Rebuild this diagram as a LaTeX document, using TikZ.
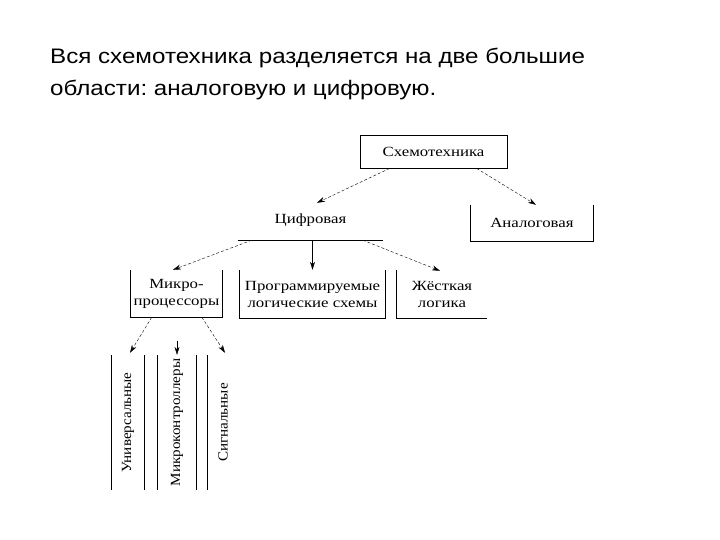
\documentclass[tikz,border=0pt]{standalone}
\usepackage{fontspec}
\setmainfont{Liberation Serif}
\newfontfamily\titlefont[FakeStretch=1.15]{Liberation Sans}
\newfontfamily\boxfont[FakeStretch=1.2]{Liberation Serif}
\newfontfamily\vertfont[FakeStretch=1.08]{Liberation Serif}
\usetikzlibrary{arrows.meta,calc}
\frenchspacing
\begin{document}
\begin{tikzpicture}[x=1pt,y=-1pt,
  lbl/.style={inner sep=0pt,align=center,font=\boxfont\fontsize{14}{17}\selectfont},
  vlbl/.style={inner sep=0pt,align=center,rotate=90,font=\vertfont\fontsize{14}{17}\selectfont},
  ttl/.style={anchor=base west,inner sep=0pt,font=\titlefont\fontsize{21}{32}\selectfont\frenchspacing},
  dsh/.style={draw,thin,dash pattern=on 3pt off 2pt,-{Stealth[length=8pt,width=5pt]}},
  sld/.style={draw,thin,-{Stealth[length=8pt,width=5pt]}},
  edge/.style={draw,line width=0.8pt}]
\useasboundingbox (0,0) rectangle (720,540);
\fill[white] (0,0) rectangle (720,540);
% title
\node[ttl] (title1) at (50,64) {Вся схемотехника разделяется на две большие};
\node[ttl] (title2) at (50,96) {области: аналоговую и цифровую.};
% nodes
\node[lbl,minimum width=147pt,minimum height=33pt,draw,line width=0.8pt] (sch) at (433.5,151.5) {Схемотехника};
\node[lbl,minimum width=122pt,minimum height=36pt] (an) at (532,223) {Аналоговая};
\node[lbl,minimum width=145pt,minimum height=40pt] (cf) at (310.5,220) {Цифровая};
\node[lbl,minimum width=91pt,minimum height=47pt] (mp) at (176.5,293.5) {Микро-\\процессоры};
\node[lbl,minimum width=145pt,minimum height=48pt] (pl) at (312.5,294) {Программируемые\\логические схемы};
\node[lbl,minimum width=90pt,minimum height=48pt] (hl) at (442,294) {Жёсткая\\логика};
\node[vlbl,minimum width=135pt,minimum height=32pt] (un) at (128,422.5) {Универсальные};
\node[vlbl,minimum width=135pt,minimum height=38pt] (mc) at (177,422.5) {Микроконтроллеры};
\node[vlbl,minimum width=135pt,minimum height=30pt] (sg) at (223,422.5) {Сигнальные};
% outlines
\draw[edge] (an.north west) |- (an.south east) -- (an.north east);
\draw[edge] (cf.south west) -- (cf.south east);
\draw[edge] (mp.north west) |- (mp.south east) -- (mp.north east);
\draw[edge] (pl.north west) |- (pl.south east) -- (pl.north east);
\draw[edge] (hl.north west) |- (hl.south east);
\draw[edge] (un.south west) -- (un.south east);
\draw[edge] (un.north west) -- (un.north east);
\draw[edge] (mc.south west) -- (mc.south east);
\draw[edge] (mc.north west) -- (mc.north east);
\draw[edge] (sg.north west) -- (sg.north east);
% connectors
\draw[dsh] ($(sch.south west)+(30,0)$) -- ($(cf.north)+(6.5,3)$);
\draw[dsh] ($(sch.south west)+(117,0)$) -- ($(an.north)+(4,0)$);
\draw[dsh] ($(cf.south west)+(14,0)$) -- ($(mp.north)+(-3.5,0)$);
\draw[sld] (cf.south -| pl.north) -- (pl.north);
\draw[dsh] ($(cf.south west)+(125,0)$) -- ($(hl.north)+(-2,1)$);
\draw[dsh] ($(mp.south west)+(21,0)$) -- ($(un.east)+(2,-2)$);
\coordinate (mcs) at ($(mc.east)+(0,-14)$);
\draw[sld] (mcs) -- (mc.east);
\draw[dsh] ($(mp.south west)+(71,0)$) -- ($(sg.east)+(2,-2)$);
\end{tikzpicture}
\end{document}
